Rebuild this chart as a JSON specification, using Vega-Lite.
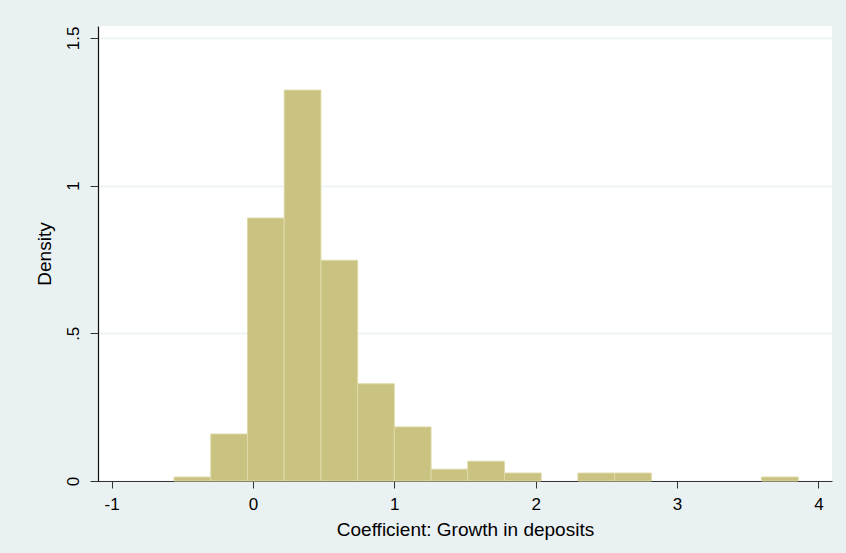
{
  "$schema": "https://vega.github.io/schema/vega-lite/v6.json",
  "width": 734,
  "height": 455,
  "autosize": {"type": "none"},
  "padding": {"left": 98, "top": 26, "right": 14, "bottom": 72},
  "background": "#EAF1F3",
  "view": {"fill": "#FFFFFF", "stroke": null},
  "data": {
    "values": [
      {"bin_start": -0.558, "bin_end": -0.2983, "density": 0.0135},
      {"bin_start": -0.2983, "bin_end": -0.0386, "density": 0.159},
      {"bin_start": -0.0386, "bin_end": 0.2211, "density": 0.890},
      {"bin_start": 0.2211, "bin_end": 0.4808, "density": 1.323},
      {"bin_start": 0.4808, "bin_end": 0.7405, "density": 0.747},
      {"bin_start": 0.7405, "bin_end": 1.0002, "density": 0.329},
      {"bin_start": 1.0002, "bin_end": 1.2599, "density": 0.183},
      {"bin_start": 1.2599, "bin_end": 1.5196, "density": 0.040},
      {"bin_start": 1.5196, "bin_end": 1.7793, "density": 0.067},
      {"bin_start": 1.7793, "bin_end": 2.039, "density": 0.027},
      {"bin_start": 2.2987, "bin_end": 2.5584, "density": 0.027},
      {"bin_start": 2.5584, "bin_end": 2.8181, "density": 0.027},
      {"bin_start": 3.5972, "bin_end": 3.8569, "density": 0.0135}
    ]
  },
  "mark": {"type": "bar", "fill": "#C9C280", "stroke": "#DEDAA8", "strokeWidth": 1},
  "encoding": {
    "x": {
      "field": "bin_start",
      "type": "quantitative",
      "scale": {"domain": [-1.096, 4.096], "nice": false, "zero": false},
      "axis": {
        "title": "Coefficient: Growth in deposits",
        "values": [-1, 0, 1, 2, 3, 4],
        "labelExpr": "datum.value == -1 ? '-1' : datum.label",
        "grid": false,
        "domainColor": "#333333",
        "domainWidth": 1.2,
        "tickColor": "#333333",
        "tickSize": 7,
        "labelPadding": 8,
        "labelFont": "Liberation Sans",
        "labelFontSize": 17,
        "labelColor": "#000000",
        "titleFont": "Liberation Sans",
        "titleFontSize": 19,
        "titleFontWeight": "normal",
        "titleColor": "#000000",
        "titlePadding": 8
      }
    },
    "x2": {"field": "bin_end"},
    "y": {
      "field": "density",
      "type": "quantitative",
      "scale": {"domain": [0, 1.54], "nice": false, "zero": true},
      "axis": {
        "title": "Density",
        "values": [0, 0.5, 1, 1.5],
        "labelExpr": "datum.value == 0 ? '0' : datum.value == 0.5 ? '.5' : datum.value == 1 ? '1' : '1.5'",
        "labelAngle": -90,
        "labelAlign": "center",
        "labelBaseline": "bottom",
        "labelPadding": 8,
        "grid": true,
        "gridColor": "#EAF1F3",
        "gridWidth": 1.5,
        "domainColor": "#111111",
        "domainWidth": 1.2,
        "tickColor": "#333333",
        "tickSize": 8,
        "labelFont": "Liberation Sans",
        "labelFontSize": 17,
        "labelColor": "#000000",
        "titleFont": "Liberation Sans",
        "titleFontSize": 19,
        "titleFontWeight": "normal",
        "titleColor": "#000000",
        "titlePadding": 10
      }
    },
    "y2": {"datum": 0}
  }
}
